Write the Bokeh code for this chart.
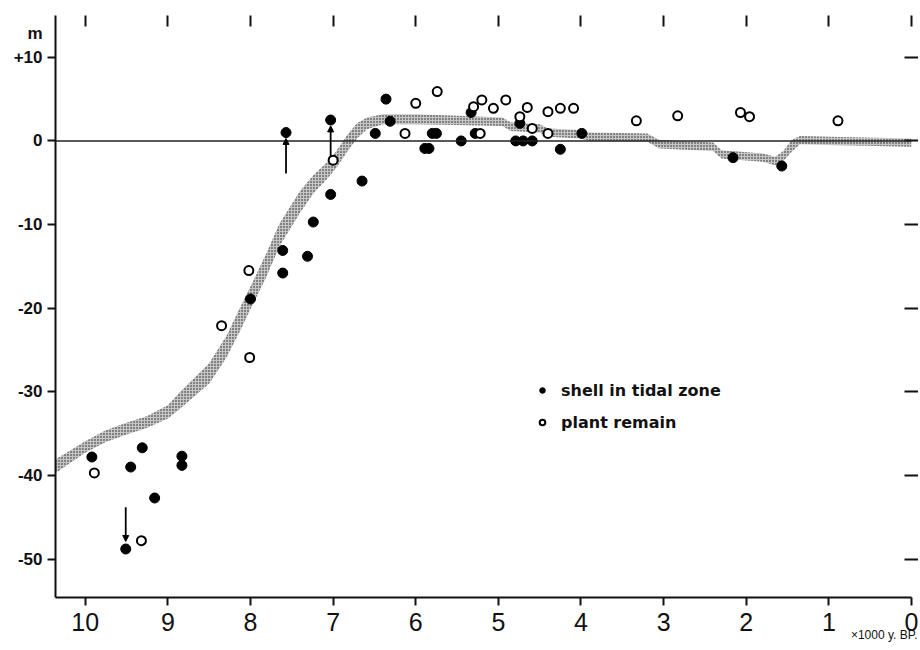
from bokeh.plotting import figure
from bokeh.models import (Range1d, LinearAxis, FixedTicker, Span, Legend, Title,
                          LegendItem, Arrow, NormalHead, ColumnDataSource)
from bokeh.embed import file_html
from bokeh.resources import INLINE

# ---- data (x = 1000 y BP, y = metres) ----
x_ticks = [0, 1, 2, 3, 4, 5, 6, 7, 8, 9, 10]
y_ticks = [10, 0, -10, -20, -30, -40, -50]
y_tick_labels = {10: "+10", 0: "0", -10: "-10", -20: "-20", -30: "-30", -40: "-40", -50: "-50"}
y_unit = "m"
y_unit_pos = 12.9
x_unit = "\u00d71000 y. BP."

shell_x = [9.92, 9.45, 9.31, 8.83, 8.83, 9.16, 9.51, 8.00, 7.61, 7.61, 7.31, 7.24, 7.03, 6.65,
           7.57, 7.03, 6.49, 6.36, 6.31, 5.89, 5.84, 5.80, 5.75, 5.45, 5.33, 5.28, 4.74, 4.79,
           4.70, 4.59, 4.25, 3.99, 2.16, 1.57]
shell_y = [-37.8, -39.0, -36.7, -37.7, -38.8, -42.7, -48.8, -18.9, -13.1, -15.8, -13.8, -9.7, -6.4, -4.8,
           1.0, 2.5, 0.9, 5.0, 2.35, -0.9, -0.9, 0.9, 0.9, 0.0, 3.4, 0.9, 2.1, 0.0,
           0.0, 0.0, -1.0, 0.9, -2.0, -3.0]

plant_x = [9.89, 9.32, 8.35, 8.02, 8.01, 7.00, 6.13, 6.00, 5.74, 5.30, 5.20, 5.22, 5.06, 4.91,
           4.74, 4.65, 4.59, 4.40, 4.40, 4.25, 4.09, 3.33, 2.83, 2.07, 1.96, 0.89]
plant_y = [-39.7, -47.8, -22.1, -15.5, -25.9, -2.3, 0.9, 4.5, 5.9, 4.1, 4.9, 0.9, 3.9, 4.9,
           2.9, 4.0, 1.5, 3.5, 0.9, 3.9, 3.9, 2.4, 3.0, 3.4, 2.9, 2.4]

# sea-level band (upper / lower edges)
band_x = [10.36, 10.0, 9.75, 9.5, 9.25, 9.0, 8.85, 8.5, 8.29, 8.13, 7.97, 7.81, 7.65, 7.4, 7.24,
          7.08, 6.96, 6.83, 6.71, 6.59, 6.4, 6.0, 5.5, 4.95, 4.85, 4.5, 4.4, 4.0, 3.9, 3.2,
          3.05, 2.4, 2.3, 1.8, 1.65, 1.55, 1.45, 1.35, 1.0, 0.0]
band_upper = [-38.1, -35.9, -34.6, -33.7, -32.9, -31.6, -30.0, -26.6, -23.3, -20.0, -16.8, -13.5, -9.9, -6.0, -4.1,
              -2.6, -1.2, 0.7, 2.1, 2.8, 3.2, 3.2, 3.0, 2.8, 2.2, 2.0, 1.5, 1.3, 1.0, 0.9,
              0.1, -0.2, -1.1, -1.5, -1.9, -1.2, 0.1, 0.6, 0.5, 0.3]
band_lower = [-39.7, -37.3, -36.0, -35.1, -34.3, -33.2, -32.0, -29.0, -25.9, -22.8, -19.5, -16.3, -12.6, -8.6, -6.3,
              -4.6, -3.2, -1.3, 0.3, 1.4, 2.0, 2.0, 1.9, 1.8, 1.2, 1.0, 0.5, 0.3, 0.0, -0.1,
              -0.9, -1.2, -2.1, -2.5, -2.9, -2.4, -1.3, -0.4, -0.5, -0.7]

arrow_x = [9.51, 7.57, 7.03]
arrow_y0 = [-43.8, -3.9, -1.8]
arrow_y1 = [-47.9, 0.3, 1.8]

# ---- figure ----
p = figure(width=918, height=648, output_backend="svg", toolbar_location=None,
           x_range=Range1d(10.36, 0), y_range=Range1d(-54.6, 15.0),
           min_border_left=55, min_border_right=7, min_border_top=15, min_border_bottom=51,
           background_fill_color="white", border_fill_color="white")
p.outline_line_color = None
p.xgrid.visible = False
p.ygrid.visible = False

# bottom axis
xa = p.xaxis[0]
xa.ticker = FixedTicker(ticks=x_ticks)
xa.axis_line_width = 2
xa.axis_line_color = "#111111"
xa.major_tick_in = 0
xa.major_tick_out = 8
xa.major_tick_line_width = 2
xa.major_tick_line_color = "#111111"
xa.minor_tick_line_color = None
xa.major_label_standoff = 7
xa.major_label_text_font = "Liberation Sans"
xa.major_label_text_font_size = "25px"
xa.major_label_text_color = "#111111"

# unit of the time axis, right-aligned under the axis
p.add_layout(Title(text=x_unit, align="right", offset=-6, standoff=-16,
                   text_font="Liberation Sans", text_font_style="normal",
                   text_font_size="12px", text_color="#111111"), "below")

# left axis: labelled (invisible) major ticks incl. the unit "m", visible ticks drawn as minor ticks
ya = p.yaxis[0]
ya.ticker = FixedTicker(ticks=y_ticks + [y_unit_pos], minor_ticks=y_ticks)
labels = dict(y_tick_labels)
labels[y_unit_pos] = y_unit
ya.major_label_overrides = labels
ya.axis_line_width = 2
ya.axis_line_color = "#111111"
ya.major_tick_in = 0
ya.major_tick_out = 0
ya.major_tick_line_color = None
ya.minor_tick_in = 0
ya.minor_tick_out = 8
ya.minor_tick_line_width = 2
ya.minor_tick_line_color = "#111111"
ya.major_label_standoff = 5
ya.major_label_text_font = "Liberation Sans"
ya.major_label_text_font_style = "bold"
ya.major_label_text_font_size = "17px"
ya.major_label_text_color = "#111111"

# top ticks
ta = LinearAxis(ticker=FixedTicker(ticks=x_ticks), axis_line_color=None,
                major_tick_in=11, major_tick_out=0, major_tick_line_width=2,
                major_tick_line_color="#111111", minor_tick_line_color=None,
                major_label_overrides={t: "" for t in x_ticks},
                major_label_text_font_size="0px", major_label_standoff=0)
p.add_layout(ta, "above")

# right ticks
ra = LinearAxis(ticker=FixedTicker(ticks=y_ticks), axis_line_color=None,
                major_tick_in=7, major_tick_out=7, major_tick_line_width=2,
                major_tick_line_color="#111111", minor_tick_line_color=None,
                major_label_overrides={t: "" for t in y_ticks},
                major_label_text_font_size="0px", major_label_standoff=0)
p.add_layout(ra, "right")

# zero line
p.add_layout(Span(location=0, dimension="width", line_color="#222222", line_width=1.6))

# band
p.varea(x=band_x, y1=band_lower, y2=band_upper, fill_color="#a0a0a0", fill_alpha=0.6,
        hatch_pattern=".", hatch_scale=3, hatch_weight=1.5, hatch_color="#1a1a1a")

# arrows
asrc = ColumnDataSource(dict(x=arrow_x, y0=arrow_y0, y1=arrow_y1))
p.add_layout(Arrow(end=NormalHead(size=6, fill_color="black", line_color="black", line_width=1),
                   x_start="x", y_start="y0", x_end="x", y_end="y1", source=asrc,
                   line_width=1.8, line_color="black"))

# points
r_shell = p.scatter(shell_x, shell_y, size=10, fill_color="black", line_color="black")
r_plant = p.scatter(plant_x, plant_y, size=9, fill_color="white", line_color="black", line_width=2)

legend = Legend(items=[LegendItem(label="shell in tidal zone", renderers=[r_shell]),
                       LegendItem(label="plant remain", renderers=[r_plant])],
                location=(480, 165), padding=0, margin=0, spacing=12,
                glyph_width=14, glyph_height=20, label_height=20, label_standoff=12,
                border_line_color=None, background_fill_alpha=0,
                label_text_font="DejaVu Sans", label_text_font_style="bold",
                label_text_font_size="16px", label_text_color="#111111")
p.add_layout(legend)

open("out.html", "w").write(file_html(p, INLINE))
